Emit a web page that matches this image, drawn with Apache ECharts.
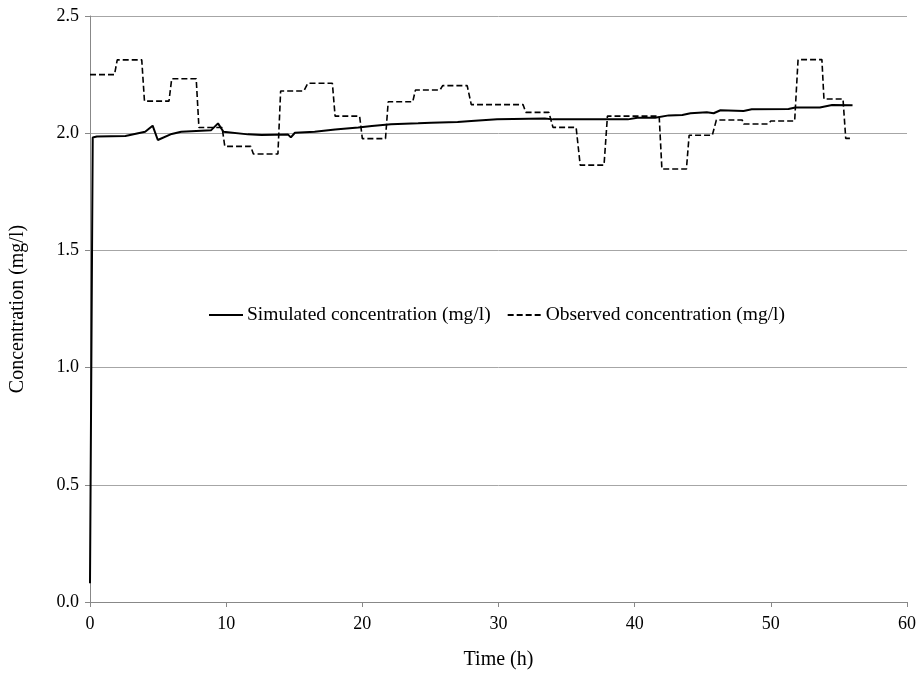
<!DOCTYPE html>
<html>
<head>
<meta charset="utf-8">
<script src="https://cdn.jsdelivr.net/npm/echarts@6/dist/echarts.min.js"></script>
<style>
  html, body { margin: 0; padding: 0; background: #fff; }
  #chart { width: 923px; height: 678px; }
</style>
</head>
<body>
<div id="chart"></div>
<script>
// simulated concentration (mg/l) against time (h)
var simTime = [0, 0.2, 0.5, 2.6, 4.05, 4.6, 4.98, 6.0, 6.7, 8.9, 9.4, 9.8, 11.6, 12.6, 14.55, 14.75, 15.05,
  16.5, 18.0, 19.7, 20.7, 22.1, 24.1, 25.05, 27.0, 28.0, 29.9, 33.4, 34.0, 39.5, 40.2, 41.5, 42.5,
  43.5, 44.1, 45.3, 45.8, 46.3, 48.0, 48.6, 51.3, 51.8, 53.6, 54.5, 56.0];
var simValue = [0.08, 1.982, 1.986, 1.988, 2.006, 2.032, 1.971, 1.997, 2.006, 2.013, 2.042, 2.006, 1.995, 1.992, 1.994, 1.982, 2.002,
  2.006, 2.016, 2.024, 2.031, 2.038, 2.042, 2.045, 2.048, 2.052, 2.059, 2.063, 2.059, 2.059, 2.066, 2.066, 2.076,
  2.078, 2.085, 2.089, 2.085, 2.098, 2.095, 2.102, 2.103, 2.11, 2.11, 2.12, 2.119];

// observed concentration (mg/l), stepwise
var obsTime = [0, 1.8, 2.0, 3.8, 4.0, 5.8, 6.0, 7.8, 8.0, 9.7, 9.9, 11.8, 12.0, 13.8, 14.0, 15.7, 16.0, 17.8, 18.0,
  19.8, 20.0, 21.7, 21.9, 23.7, 23.9, 25.7, 25.9, 27.7, 28.0, 31.8, 32.0, 33.7, 34.0, 35.7, 36.0, 37.75, 38.0,
  41.8, 42.0, 43.8, 44.0, 45.7, 46.0, 47.9, 48.0, 49.8, 50.0, 51.75, 52.0, 53.75, 53.9, 55.3, 55.5, 56.0];
var obsValue = [2.25, 2.25, 2.313, 2.313, 2.137, 2.137, 2.232, 2.232, 2.024, 2.024, 1.944, 1.944, 1.911, 1.911, 2.18, 2.18, 2.213, 2.213, 2.073,
  2.073, 1.977, 1.977, 2.134, 2.134, 2.184, 2.184, 2.203, 2.203, 2.122, 2.122, 2.089, 2.089, 2.025, 2.025, 1.864, 1.864, 2.073,
  2.073, 1.847, 1.847, 1.991, 1.991, 2.056, 2.056, 2.039, 2.039, 2.052, 2.052, 2.314, 2.314, 2.146, 2.146, 1.978, 1.978];

var xTicks = [0, 10, 20, 30, 40, 50, 60];
var yTicks = [0, 0.5, 1.0, 1.5, 2.0, 2.5];

function pairs(ts, vs) {
  return ts.map(function (t, i) { return [t, vs[i]]; });
}

var chart = echarts.init(document.getElementById('chart'));
var font = '"Liberation Serif", "Times New Roman", serif';

chart.setOption({
  animation: false,
  textStyle: { fontFamily: font },
  grid: { left: 88, right: 16, top: 16, bottom: 76 },
  legend: {
    left: 203,
    top: 300,
    itemWidth: 34,
    itemHeight: 14,
    itemGap: 16,
    // hide the marker dot, keep only the line sample
    itemStyle: { opacity: 0 },
    textStyle: { fontFamily: font, fontSize: 19.5, color: '#000', padding: [0, 0, 0, -1] },
    data: ['Simulated concentration (mg/l)', 'Observed concentration (mg/l)']
  },
  xAxis: {
    type: 'value',
    min: 0,
    max: 60,
    interval: 10,
    name: 'Time (h)',
    nameLocation: 'middle',
    nameGap: 48,
    nameMoveOverlap: false,
    nameTextStyle: { fontFamily: font, fontSize: 20, color: '#000' },
    axisLine: { lineStyle: { color: '#888', width: 1 } },
    axisTick: { show: true, length: 5, lineStyle: { color: '#888' } },
    axisLabel: {
      fontFamily: font, fontSize: 18, color: '#000', margin: 13,
      formatter: function (v) { return xTicks.indexOf(v) >= 0 ? String(v) : ''; }
    },
    splitLine: { show: false }
  },
  yAxis: {
    type: 'value',
    min: 0,
    max: 2.5,
    interval: 0.5,
    name: 'Concentration (mg/l)',
    nameLocation: 'middle',
    nameGap: 62,
    nameMoveOverlap: false,
    nameTextStyle: { fontFamily: font, fontSize: 20, color: '#000' },
    axisLine: { show: true, lineStyle: { color: '#888', width: 1 } },
    axisTick: { show: true, length: 5, lineStyle: { color: '#888' } },
    axisLabel: {
      fontFamily: font, fontSize: 18, color: '#000', margin: 11,
      formatter: function (v) { return yTicks.indexOf(v) >= 0 ? v.toFixed(1) : ''; }
    },
    splitLine: { show: true, lineStyle: { color: '#a6a6a6', width: 1 } }
  },
  series: [
    {
      name: 'Simulated concentration (mg/l)',
      type: 'line',
      showSymbol: false,
      symbol: 'none',
      lineStyle: { color: '#000', width: 2 },
      itemStyle: { color: '#000' },
      data: pairs(simTime, simValue)
    },
    {
      name: 'Observed concentration (mg/l)',
      type: 'line',
      showSymbol: false,
      symbol: 'none',
      lineStyle: { color: '#000', width: 1.6, type: [6, 3] },
      itemStyle: { color: '#000' },
      data: pairs(obsTime, obsValue)
    }
  ]
});
</script>
</body>
</html>
